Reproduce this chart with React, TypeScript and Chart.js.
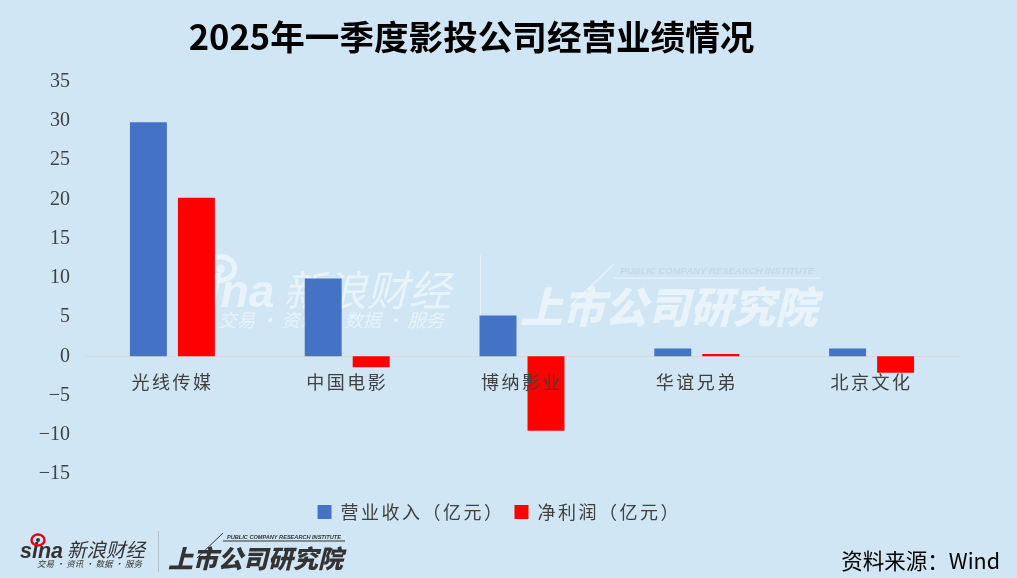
import React, { useEffect, useRef } from "react";
import { Chart, registerables } from "chart.js";

Chart.register(...registerables);

const categories = ["光线传媒", "中国电影", "博纳影业", "华谊兄弟", "北京文化"];
const revenue = [29.8, 9.9, 5.2, 1.0, 1.0];
const netProfit = [20.2, -1.4, -9.5, 0.3, -2.1];
const revenueLabel = "营业收入（亿元）";
const profitLabel = "净利润（亿元）";
const titleText = "2025年一季度影投公司经营业绩情况";
const sourceText = "资料来源：Wind";
const BG = "#D1E6F5";
const CJK = "'Noto Sans CJK SC'";

function drawSina(ctx: CanvasRenderingContext2D, x: number, y: number, s: number, light: boolean) {
  const main = light ? "rgba(255,255,255,0.5)" : "#333333";
  const accent = light ? "rgba(255,255,255,0.5)" : "#E60012";
  ctx.save();
  ctx.textBaseline = "middle";
  ctx.textAlign = "left";
  ctx.fillStyle = main;
  ctx.font = `italic bold ${21.5 * s}px 'Liberation Sans'`;
  ctx.fillText("sina", x, y + 22 * s);
  ctx.strokeStyle = accent;
  ctx.lineWidth = 2.4 * s;
  ctx.beginPath();
  ctx.ellipse(x + 18 * s, y + 10 * s, 6.5 * s, 5.5 * s, 0, 0, Math.PI * 2);
  ctx.stroke();
  ctx.fillStyle = main;
  ctx.beginPath();
  ctx.arc(x + 18 * s, y + 10 * s, 2 * s, 0, Math.PI * 2);
  ctx.fill();
  ctx.font = `italic ${19.5 * s}px ${CJK}`;
  ctx.fillText("新浪财经", x + 47 * s, y + 20 * s);
  ctx.font = `italic ${8.5 * s}px ${CJK}`;
  ctx.fillText("交易 · 资讯 · 数据 · 服务", x + 17 * s, y + 34 * s);
  ctx.restore();
}

function drawInstitute(ctx: CanvasRenderingContext2D, x: number, y: number, s: number, light: boolean) {
  const main = light ? "rgba(255,255,255,0.5)" : "#333333";
  ctx.save();
  ctx.textBaseline = "middle";
  ctx.textAlign = "left";
  ctx.fillStyle = main;
  ctx.strokeStyle = main;
  ctx.lineWidth = Math.max(1, 0.8 * s);
  ctx.beginPath();
  ctx.moveTo(x + 55 * s, y - 17 * s);
  ctx.lineTo(x + 177 * s, y - 17 * s);
  ctx.moveTo(x + 29 * s, y + 0 * s);
  ctx.lineTo(x + 55 * s, y - 25 * s);
  ctx.stroke();
  ctx.font = `italic 900 ${25 * s}px ${CJK}`;
  ctx.fillText("上市公司研究院", x, y);
  if (light) ctx.fillStyle = "rgba(190,205,220,0.6)";
  ctx.font = `italic bold ${5.6 * s}px 'Liberation Sans'`;
  ctx.fillText("PUBLIC COMPANY RESEARCH INSTITUTE", x + 59 * s, y - 21 * s);
  ctx.restore();
}

function drawDivider(ctx: CanvasRenderingContext2D, x: number, y0: number, y1: number, color: string) {
  ctx.save();
  ctx.strokeStyle = color;
  ctx.lineWidth = 1;
  ctx.beginPath();
  ctx.moveTo(x + 0.5, y0);
  ctx.lineTo(x + 0.5, y1);
  ctx.stroke();
  ctx.restore();
}

const chromePlugin = {
  id: "chrome",
  afterLayout(chart: any) {
    const ctx = chart.ctx;
    const t = chart.titleBlock;
    if (t) { t.left -= 8; t.right -= 8; }
    const l = chart.legend;
    if (l) { l.left += 1; l.right += 1; l.top += 19; l.bottom += 19; }
    const x = chart.scales.x;
    if (!x.__wrapped) {
      const orig = x.drawLabels.bind(x);
      x.drawLabels = (a: any) => { ctx.letterSpacing = "2.5px"; orig(a); ctx.letterSpacing = "0px"; };
      x.__wrapped = true;
    }
    if (l && !l.__wrapped) {
      const orig = l.draw.bind(l);
      l.draw = () => { ctx.letterSpacing = "2.5px"; orig(); ctx.letterSpacing = "0px"; };
      l.__wrapped = true;
    }
  },
  beforeDatasetsDraw(chart: any) {
    const ctx = chart.ctx as CanvasRenderingContext2D;
    drawSina(ctx, 182, 247, 2.15, true);
    drawDivider(ctx, 480, 255, 335, "rgba(255,255,255,0.45)");
    drawInstitute(ctx, 520, 307, 1.7, true);
  },
  afterDraw(chart: any) {
    const ctx = chart.ctx as CanvasRenderingContext2D;
    drawSina(ctx, 20, 530, 1, false);
    drawDivider(ctx, 158, 531, 572, "#B5BFC6");
    drawInstitute(ctx, 168, 558, 1, false);
    ctx.save();
    ctx.fillStyle = "#000000";
    ctx.font = `21.5px ${CJK}`;
    ctx.textAlign = "right";
    ctx.textBaseline = "middle";
    ctx.fillText(sourceText, 1000, 561);
    ctx.restore();
  },
};

export default function App() {
  const ref = useRef<HTMLCanvasElement>(null);
  useEffect(() => {
    const chart = new Chart(ref.current as HTMLCanvasElement, {
      type: "bar",
      data: {
        labels: categories,
        datasets: [
          { label: revenueLabel, data: revenue, backgroundColor: "#4472C4" },
          { label: profitLabel, data: netProfit, backgroundColor: "#FF0000" },
        ],
      },
      options: {
        animation: false,
        responsive: false,
        devicePixelRatio: 1,
        layout: { padding: { left: 0, right: 58, top: 0, bottom: 66 } },
        datasets: { bar: { barPercentage: 0.77, categoryPercentage: 0.549 } },
        plugins: {
          tooltip: { enabled: false },
          title: {
            display: true,
            text: titleText,
            color: "#000000",
            font: { family: CJK, size: 34.6, weight: "bold" },
            padding: { top: 16, bottom: 24 },
          },
          legend: {
            position: "bottom",
            labels: {
              boxWidth: 14,
              boxHeight: 14,
              padding: 10,
              color: "#404040",
              font: { family: CJK, size: 18 },
            },
          },
        },
        scales: {
          x: {
            position: { y: 0 },
            grid: { display: false },
            border: { display: true, color: "#D9D9D9", width: 1 },
            ticks: { color: "#404040", font: { family: CJK, size: 18 }, padding: 7, z: 1, maxRotation: 0 },
          },
          y: {
            min: -15,
            max: 35,
            afterFit(s: any) { s.width = 85; },
            grid: { display: false },
            border: { display: false },
            ticks: {
              stepSize: 5,
              color: "#404040",
              padding: 7,
              font: { family: "'Liberation Serif'", size: 20 },
              callback: (v: any) => (Number(v) < 0 ? "−" + Math.abs(Number(v)) : String(v)),
            },
          },
        },
      },
      plugins: [chromePlugin],
    } as any);
    return () => chart.destroy();
  }, []);
  return (
    <div style={{ position: "fixed", left: 0, top: 0, width: 1017, height: 578, background: BG }}>
      <canvas ref={ref} width={1017} height={578} style={{ display: "block", width: 1017, height: 578 }} />
    </div>
  );
}
